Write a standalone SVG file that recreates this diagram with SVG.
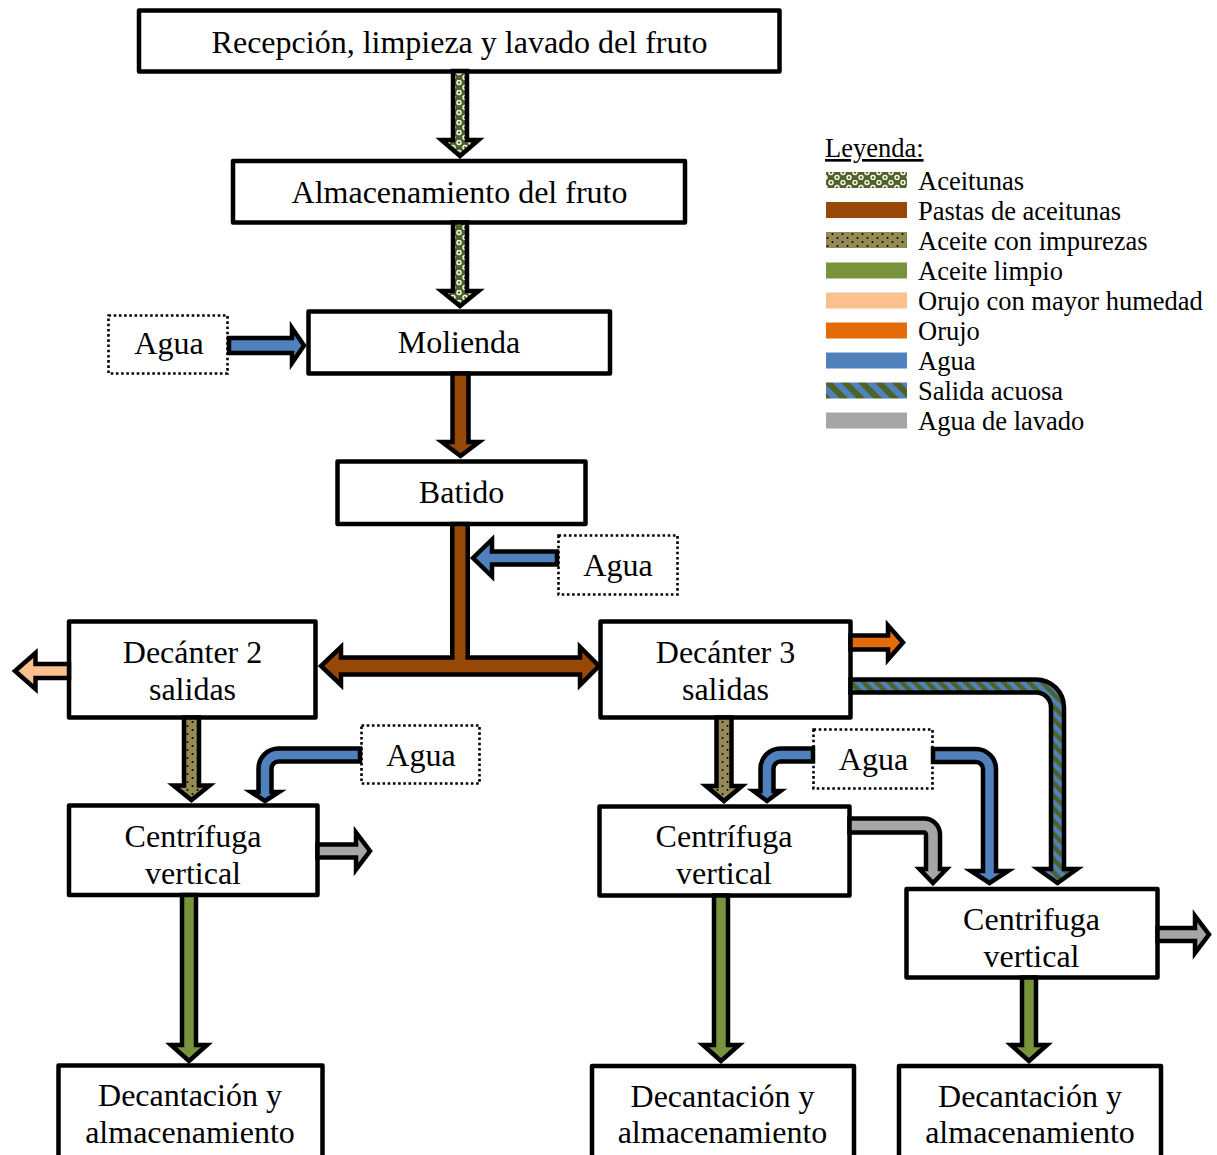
<svg xmlns="http://www.w3.org/2000/svg" width="1217" height="1155" viewBox="0 0 1217 1155">
<style>
.box{fill:#fff;stroke:#000;stroke-width:4.5;stroke-linejoin:round}
.dot{fill:#fff;stroke:#000;stroke-width:2.6;stroke-dasharray:2.6 2.6}
.arr{stroke:#000;stroke-width:4.5;stroke-linejoin:miter;stroke-miterlimit:10}
.t{font-family:"Liberation Serif","Times New Roman",serif;font-size:32px;text-anchor:middle;fill:#000}
.lg{font-family:"Liberation Serif","Times New Roman",serif;font-size:26.5px;fill:#000}
</style>
<defs>
<pattern id="pAce" width="12" height="10" patternUnits="userSpaceOnUse">
<rect width="12" height="10" fill="#4F6228"/>
<circle cx="3" cy="2.5" r="2.7" fill="#fff"/>
<circle cx="3" cy="2.5" r="1.3" fill="#4F6228"/>
<circle cx="9" cy="7.5" r="2.7" fill="#fff"/>
<circle cx="9" cy="7.5" r="1.3" fill="#4F6228"/>
</pattern>
<pattern id="pImp" width="10" height="8" patternUnits="userSpaceOnUse">
<rect width="10" height="8" fill="#948A54"/>
<circle cx="2.5" cy="2" r="1" fill="#000"/>
<circle cx="7.5" cy="6" r="1" fill="#000"/>
</pattern>
<pattern id="pSal" width="9" height="9" patternUnits="userSpaceOnUse" patternTransform="rotate(-45)">
<rect width="9" height="9" fill="#4F81BD"/>
<rect width="4.5" height="9" fill="#4F6228"/>
</pattern>
<pattern id="pSalL" width="12" height="12" patternUnits="userSpaceOnUse" patternTransform="rotate(-45)">
<rect width="12" height="12" fill="#4F81BD"/>
<rect width="6" height="12" fill="#4F6228"/>
</pattern>
</defs>

<g id="n-recepcion"><rect class="box" x="139" y="10.5" width="640.5" height="61"/><text class="t" x="459.5" y="53">Recepción, limpieza y lavado del fruto</text></g>
<g id="n-almacenamiento"><rect class="box" x="233" y="161" width="452" height="61.5"/><text class="t" x="459.5" y="203">Almacenamiento del fruto</text></g>
<g id="n-molienda"><rect class="box" x="308.5" y="311.5" width="301.5" height="62"/><text class="t" x="459" y="353">Molienda</text></g>
<g id="n-agua1"><rect class="dot" x="108.5" y="315.5" width="119" height="58"/><text class="t" x="169" y="354">Agua</text></g>
<g id="n-batido"><rect class="box" x="337.5" y="461.5" width="248" height="62.5"/><text class="t" x="461.5" y="503">Batido</text></g>
<g id="n-agua2"><rect class="dot" x="558.5" y="535.5" width="119" height="59"/><text class="t" x="618" y="576">Agua</text></g>
<g id="n-decanter2"><rect class="box" x="69" y="621.5" width="246.5" height="96"/><text class="t" x="192.5" y="663">Decánter 2</text><text class="t" x="192.5" y="700">salidas</text></g>
<g id="n-decanter3"><rect class="box" x="600.5" y="621.5" width="250" height="96"/><text class="t" x="725.5" y="663">Decánter 3</text><text class="t" x="725.5" y="700">salidas</text></g>
<g id="n-agua3"><rect class="dot" x="361.5" y="725.5" width="118" height="58"/><text class="t" x="421" y="766">Agua</text></g>
<g id="n-agua4"><rect class="dot" x="813.5" y="729.5" width="119" height="59"/><text class="t" x="873.5" y="770">Agua</text></g>
<g id="n-centrifuga1"><rect class="box" x="69" y="805.5" width="248.5" height="89.5"/><text class="t" x="193" y="847">Centrífuga</text><text class="t" x="193" y="884">vertical</text></g>
<g id="n-centrifuga2"><rect class="box" x="599.5" y="806.5" width="250" height="89"/><text class="t" x="724" y="847">Centrífuga</text><text class="t" x="724" y="884">vertical</text></g>
<g id="n-centrifuga3"><rect class="box" x="906.5" y="889" width="251" height="88.5"/><text class="t" x="1031.5" y="930">Centrifuga</text><text class="t" x="1031.5" y="967">vertical</text></g>
<g id="n-decantacion1"><rect class="box" x="58.5" y="1065.5" width="264" height="200"/><text class="t" x="190" y="1106">Decantación y</text><text class="t" x="190" y="1143">almacenamiento</text></g>
<g id="n-decantacion2"><rect class="box" x="592" y="1066" width="262" height="200"/><text class="t" x="722.5" y="1107">Decantación y</text><text class="t" x="722.5" y="1143">almacenamiento</text></g>
<g id="n-decantacion3"><rect class="box" x="899" y="1066" width="262" height="200"/><text class="t" x="1030" y="1107">Decantación y</text><text class="t" x="1030" y="1143">almacenamiento</text></g>

<g id="connectors">
<path class="arr" fill="url(#pAce)" d="M453,71 V140 H441.5 L460,156 L478.5,140 H467 V71 Z"/>
<path class="arr" fill="url(#pAce)" d="M453,222.5 V291 H441.5 L460,306 L478.5,291 H467 V222.5 Z"/>
<path class="arr" fill="#4F81BD" d="M229,338 H292 V328 L304,345.5 L292,363 V353 H229 Z"/>
<path class="arr" fill="#974806" d="M452.5,373.5 V442 H442 L460.5,456 L479,442 H468.5 V373.5 Z"/>
<path class="arr" fill="#974806" d="M452.25,524 V657.5 H341 V647 L321,666 L341,685 V674.5 H580 V685 L599,666 L580,647 V657.5 H467.75 V524 Z"/>
<path class="arr" fill="#4F81BD" d="M557,551.5 H492 V539.5 L473,558 L492,576.5 V564.5 H557 Z"/>
<path class="arr" fill="#FAC090" d="M69,664 H35.5 V653 L15,671 L35.5,689 V678 H69 Z"/>
<path class="arr" fill="#E36C09" d="M850.5,635.5 H888 V625.5 L903,642.5 L888,659.5 V649.5 H850.5 Z"/>
<path class="arr" fill="url(#pSal)" d="M850.5,679.5 H1036 A28,28 0 0 1 1064,707.5 V869 H1077 L1057.5,883 L1038,869 H1051 V707.5 A15,15 0 0 0 1036,692.5 H850.5 Z"/>
<path class="arr" fill="#4F81BD" d="M933,749 H976 A20,20 0 0 1 996,769 V871 H1008 L989.5,883 L971,871 H983 V769 A7,7 0 0 0 976,762 H933 Z"/>
<path class="arr" fill="#4F81BD" d="M813,748.5 H780.5 A20,20 0 0 0 760.5,768.5 V791 H753.5 L767,801 L780.5,791 H773.5 V768.5 A7,7 0 0 1 780.5,761.5 H813 Z"/>
<path class="arr" fill="#4F81BD" d="M360,748.5 H278.5 A20,20 0 0 0 258.5,768.5 V792 H251 L265,801 L279,792 H271.5 V768.5 A7,7 0 0 1 278.5,761.5 H360 Z"/>
<path class="arr" fill="url(#pImp)" d="M184,717.5 V785.5 H173.5 L191.5,800 L209.5,785.5 H199 V717.5 Z"/>
<path class="arr" fill="url(#pImp)" d="M716.5,717.5 V786 H706 L724,801 L742,786 H731.5 V717.5 Z"/>
<path class="arr" fill="#A6A6A6" d="M849.5,818.5 H924 A16,16 0 0 1 940,834.5 V869 H946.5 L933,883 L919.5,869 H926 V834.5 A2,2 0 0 0 924,832.5 H849.5 Z"/>
<path class="arr" fill="#A6A6A6" d="M317.5,844.5 H356 V832.5 L370,851 L356,869.5 V857.5 H317.5 Z"/>
<path class="arr" fill="#A6A6A6" d="M1157.5,928 H1195 V916 L1209,934.5 L1195,953 V941 H1157.5 Z"/>
<path class="arr" fill="#77933C" d="M182,895 V1045 H171 L189,1061 L207,1045 H196 V895 Z"/>
<path class="arr" fill="#77933C" d="M714,895.5 V1045 H703 L721,1061 L739,1045 H728 V895.5 Z"/>
<path class="arr" fill="#77933C" d="M1022,977.5 V1045 H1011 L1029,1061 L1047,1045 H1036 V977.5 Z"/>
</g>

<g id="legend">
<text class="lg" x="825" y="157" text-decoration="underline">Leyenda:</text>
<rect x="826" y="172" width="81" height="16" fill="url(#pAce)"/><text class="lg" x="918" y="190">Aceitunas</text>
<rect x="826" y="202" width="81" height="16" fill="#974806"/><text class="lg" x="918" y="220">Pastas de aceitunas</text>
<rect x="826" y="232" width="81" height="16" fill="url(#pImp)"/><text class="lg" x="918" y="250">Aceite con impurezas</text>
<rect x="826" y="262.5" width="81" height="16" fill="#77933C"/><text class="lg" x="918" y="280">Aceite limpio</text>
<rect x="826" y="292.5" width="81" height="16" fill="#FAC090"/><text class="lg" x="918" y="310">Orujo con mayor humedad</text>
<rect x="826" y="322.5" width="81" height="16" fill="#E36C09"/><text class="lg" x="918" y="340">Orujo</text>
<rect x="826" y="352.5" width="81" height="16" fill="#4F81BD"/><text class="lg" x="918" y="370">Agua</text>
<rect x="826" y="382.5" width="81" height="16" fill="url(#pSalL)"/><text class="lg" x="918" y="400">Salida acuosa</text>
<rect x="826" y="412.5" width="81" height="16" fill="#A6A6A6"/><text class="lg" x="918" y="430">Agua de lavado</text>
</g>
</svg>
